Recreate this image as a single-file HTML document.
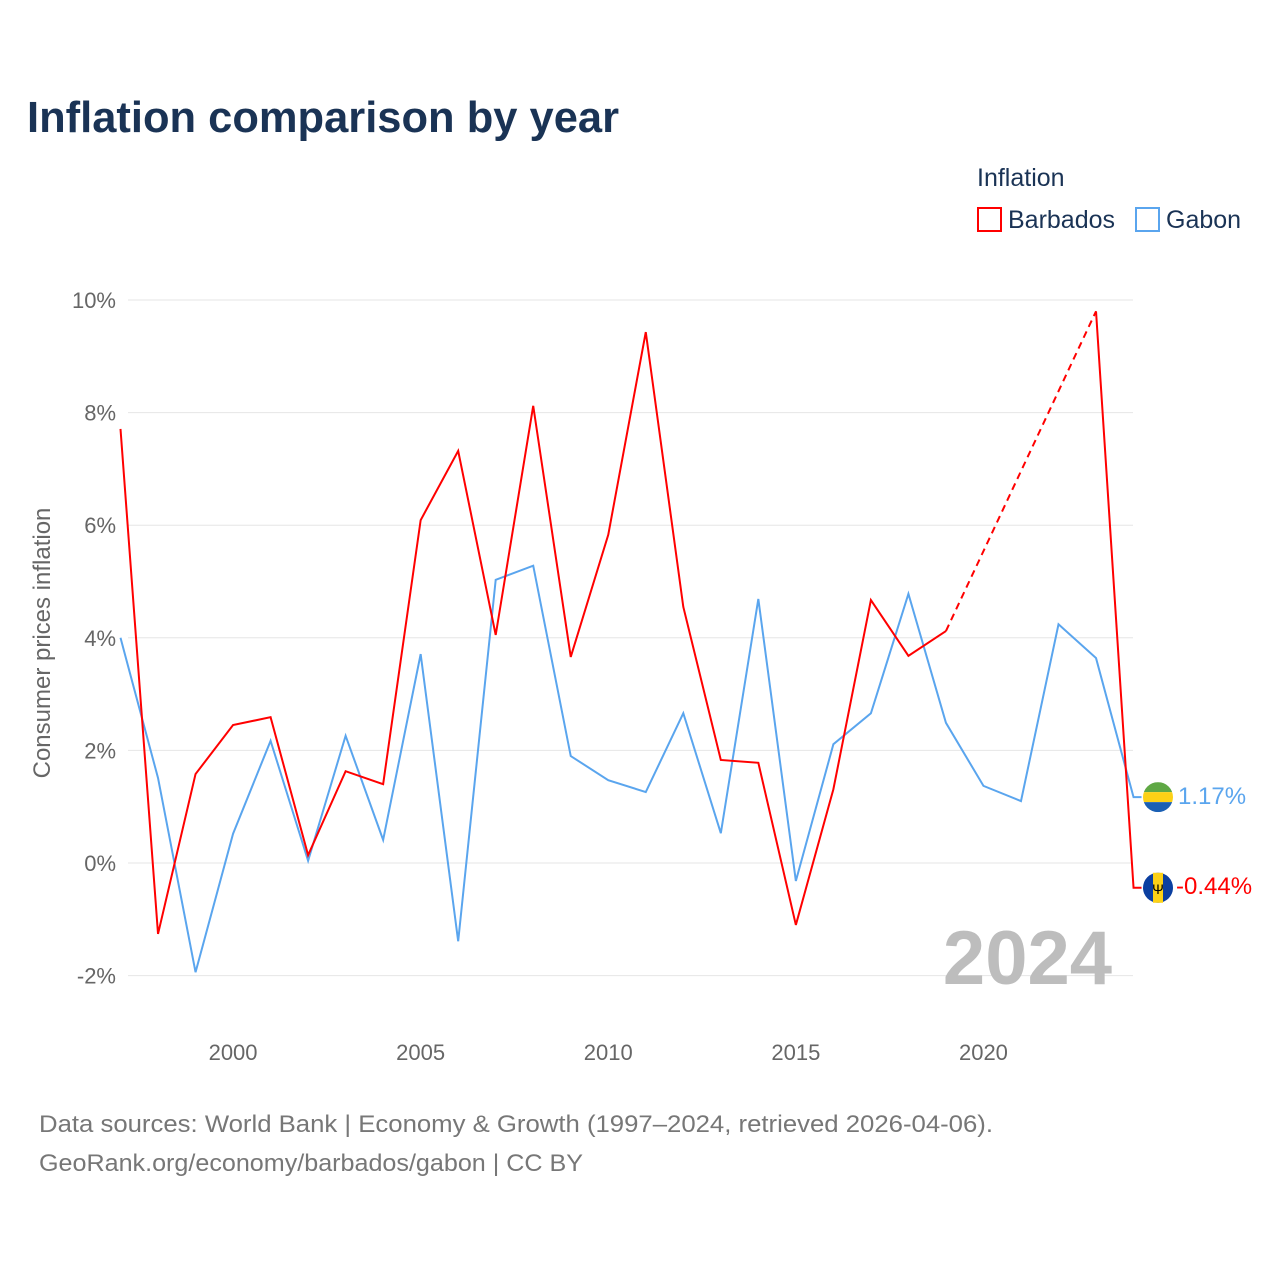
<!DOCTYPE html>
<html><head><meta charset="utf-8"><style>
body{margin:0;background:#fff;width:1280px;height:1280px;overflow:hidden;font-family:"Liberation Sans",sans-serif}
</style></head><body>
<svg id="chart" width="1280" height="1280" xmlns="http://www.w3.org/2000/svg" font-family="Liberation Sans, sans-serif">
<text x="27" y="132" font-size="43.5" font-weight="bold" fill="#1a3355" textLength="592" lengthAdjust="spacingAndGlyphs">Inflation comparison by year</text>
<text x="977" y="186" font-size="25" fill="#1a3355">Inflation</text>
<g><rect x="978" y="208" width="23" height="23" fill="none" stroke="#ff0000" stroke-width="2"/><text x="1008" y="228" font-size="25" fill="#1a3355">Barbados</text></g>
<g><rect x="1136" y="208" width="23" height="23" fill="none" stroke="#5aa5ee" stroke-width="2"/><text x="1166" y="228" font-size="25" fill="#1a3355">Gabon</text></g>
<g id="grid"></g><g id="series"></g>
<text x="1112" y="984" font-size="76" font-weight="bold" fill="#bdbdbd" text-anchor="end">2024</text>
<text transform="translate(50,643) rotate(-90)" font-size="24" fill="#666" text-anchor="middle">Consumer prices inflation</text>
<text x="39" y="1132" font-size="24" fill="#777" textLength="954" lengthAdjust="spacingAndGlyphs">Data sources: World Bank | Economy &amp; Growth (1997–2024, retrieved 2026-04-06).</text>
<text x="39" y="1171" font-size="24" fill="#777" textLength="544" lengthAdjust="spacingAndGlyphs">GeoRank.org/economy/barbados/gabon | CC BY</text>
</svg>
<script>
const years=[1997,1998,1999,2000,2001,2002,2003,2004,2005,2006,2007,2008,2009,2010,2011,2012,2013,2014,2015,2016,2017,2018,2019,2020,2021,2022,2023,2024];
const barbados=[7.71,-1.26,1.58,2.45,2.59,0.14,1.63,1.40,6.09,7.32,4.05,8.12,3.66,5.83,9.43,4.55,1.83,1.78,-1.10,1.31,4.67,3.68,4.12,null,null,null,9.80,-0.44];
const gabon=[4.00,1.51,-1.94,0.52,2.17,0.04,2.26,0.41,3.71,-1.39,5.03,5.28,1.90,1.47,1.26,2.66,0.53,4.69,-0.32,2.11,2.66,4.78,2.49,1.37,1.10,4.24,3.64,1.17];
const yTicks=[-2,0,2,4,6,8,10];
const xTicks=[2000,2005,2010,2015,2020];
const NS="http://www.w3.org/2000/svg";
const xs=y=>120.5+(y-1997)*37.52;
const ys=v=>863-v*56.3;
function mk(t,a,p){const e=document.createElementNS(NS,t);for(const k in a)e.setAttribute(k,a[k]);p.appendChild(e);return e;}
const grid=document.getElementById('grid'),ser=document.getElementById('series');
yTicks.forEach(v=>{
 const l=mk('line',{x1:128,x2:1133,y1:ys(v),y2:ys(v),stroke:'#e6e6e6','stroke-width':1},grid);
 
 
 const t=mk('text',{x:116,y:ys(v)+8,'font-size':22,fill:'#666','text-anchor':'end'},grid);
 t.textContent=v+'%';
 
 
});
xTicks.forEach(y=>{
 const t=mk('text',{x:xs(y),y:1060,'font-size':22,fill:'#666','text-anchor':'middle'},grid);
 t.textContent=y;
 
 
});
function draw(vals,color,name){
 let segs=[],cur=[];let lastIdx=-1;
 vals.forEach((v,i)=>{
  if(v===null)return;
  if(lastIdx>=0&&i-lastIdx>1){segs.push({pts:cur,dash:false});segs.push({pts:[[xs(years[lastIdx]),ys(vals[lastIdx])],[xs(years[i]),ys(v)]],dash:true});cur=[];}
  cur.push([xs(years[i]),ys(v)]);lastIdx=i;
 });
 const lv=vals[vals.length-1];cur.push([xs(years[years.length-1])+8,ys(lv)]);
 segs.push({pts:cur,dash:false});
 segs.forEach(s=>{if(s.pts.length<2)return;
  const p=mk('polyline',{points:s.pts.map(q=>q.join(',')).join(' '),fill:'none',stroke:color,'stroke-width':2,'stroke-dasharray':s.dash?'7,5':'none'},ser);
  
  
 });
 return ys(lv);
}
const yg=draw(gabon,'#5aa5ee','gabon');
const yb=draw(barbados,'#ff0000','barbados');
const cx=1158;
const gf=mk('g',{},ser);


const cp=mk('clipPath',{id:'cg'},gf);
mk('circle',{cx:cx,cy:yg,r:15},cp);
const gg=mk('g',{'clip-path':'url(#cg)'},gf);
mk('rect',{x:cx-15,y:yg-15,width:30,height:10,fill:'#5fa845'},gg);
mk('rect',{x:cx-15,y:yg-5,width:30,height:10,fill:'#fcd116'},gg);
mk('rect',{x:cx-15,y:yg+5,width:30,height:10,fill:'#1a5fb4'},gg);
const bf=mk('g',{},ser);


mk('circle',{cx:cx,cy:yb,r:15,fill:'#0b3fa0'},bf);
mk('rect',{x:cx-5,y:yb-15,width:10,height:30,fill:'#fcd116'},bf);
const tr=mk('text',{x:cx,y:yb+6,'font-size':14,'text-anchor':'middle',fill:'#000'},bf);tr.textContent='Ψ';
const lg=mk('text',{x:1178,y:yg+7,'font-size':24,fill:'#5aa5ee'},ser);lg.textContent=gabon[gabon.length-1].toFixed(2)+'%';


const lb=mk('text',{x:1176,y:yb+6,'font-size':24,fill:'#ff0000'},ser);lb.textContent=barbados[barbados.length-1].toFixed(2)+'%';


</script>
</body></html>
